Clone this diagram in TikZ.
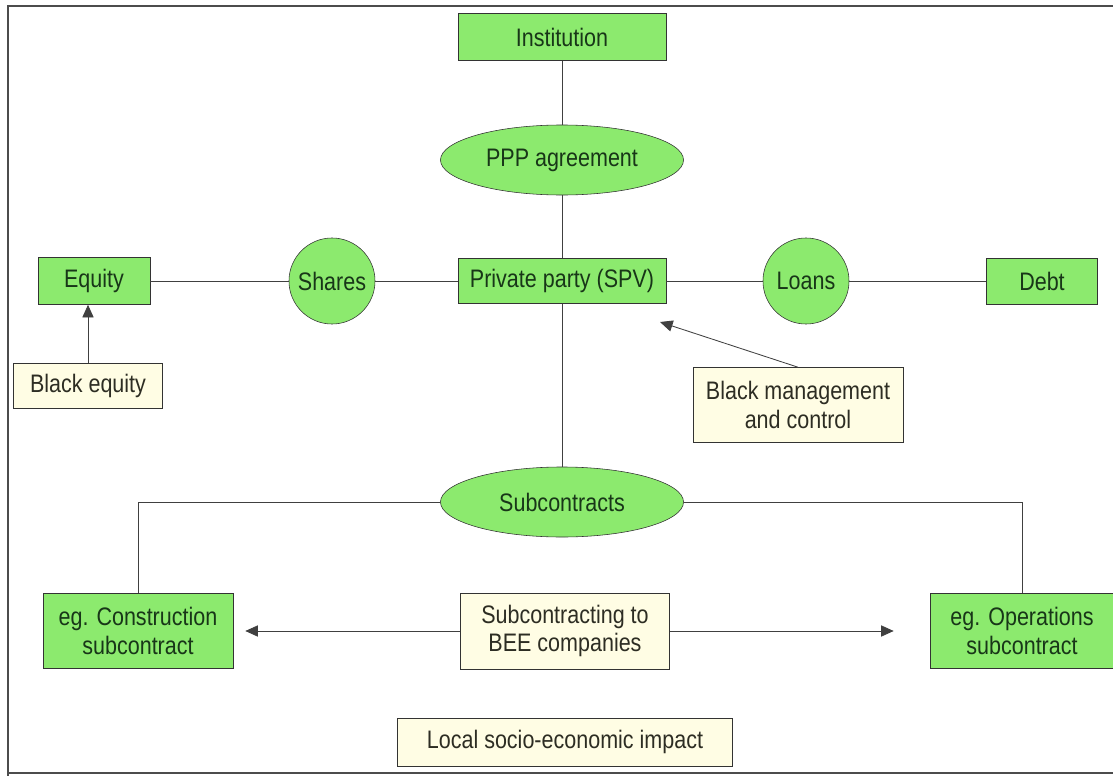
\documentclass[tikz,border=0pt]{standalone}
\usepackage{fontspec}
\setmainfont{Liberation Sans}[FakeStretch=0.85]
\usepackage{tikz}
\usepackage{xcolor}
\usetikzlibrary{arrows.meta,calc,positioning,shapes.geometric}

\definecolor{boxgreen}{RGB}{140,234,110}
\definecolor{boxcream}{RGB}{255,253,228}
\definecolor{greentext}{RGB}{24,54,24}
\definecolor{creamtext}{RGB}{45,45,35}

\begin{document}
\begin{tikzpicture}[x=0.025cm, y=-0.025cm,
    font=\fontsize{18}{20.5}\selectfont,
    greenbox/.style={draw=black!80, fill=boxgreen, text=greentext, inner sep=0pt, align=center},
    creambox/.style={draw=black!80, fill=boxcream, text=creamtext, inner sep=0pt, align=center},
    greenoval/.style={ellipse, draw=black!80, fill=boxgreen, text=greentext, inner sep=0pt,
      minimum width=6.075cm, minimum height=1.75cm},
    greencirc/.style={circle, draw=black!80, fill=boxgreen, text=greentext, inner sep=0pt,
      minimum size=2.15cm},
    link/.style={black!75, line width=0.5pt},
    pointer/.style={black!75, line width=0.6pt, -{Triangle[length=9pt,width=8pt]}}]
  \useasboundingbox (0,0) rectangle (1113,776);

  % outer frame (right side runs off the page)
  \draw[black!70, line width=1.2pt] (8,776) -- (8,6) -- (1113,6);
  \draw[black!70, line width=1.2pt] (8,773) -- (1113,773);

  % central column
  \node[greenbox, minimum width=5.2cm, minimum height=1.175cm] (inst) at (562,37) {Institution};
  \node[greenoval] (ppp) at (562,160) {PPP agreement};
  \node[greenbox, minimum width=5.2cm, minimum height=1.125cm] (spv) at (562,281) {Private party (SPV)};
  \node[greenoval] (subc) at (562,502) {Subcontracts};

  % funding row
  \node[greenbox, minimum width=2.8cm, minimum height=1.175cm] (equity) at (94,281) {Equity};
  \node[greencirc] (shares) at (332,281) {Shares};
  \node[greencirc] (loans) at (806,281) {Loans};
  \node[greenbox, minimum width=2.775cm, minimum height=1.15cm] (debt) at (1042,281) {Debt};

  % BEE elements
  \node[creambox, minimum width=3.725cm, minimum height=1.125cm] (blackeq) at (88,386) {Black equity};
  \node[creambox, minimum width=5.25cm, minimum height=1.875cm] (blackmc) at (798,405)
    {Black management\\and control};
  \coordinate (mctip) at (660,322);

  % subcontract row
  \node[greenbox, minimum width=4.75cm, minimum height=1.875cm] (constr) at (138,631)
    {eg. Construction\\subcontract};
  \node[greenbox, minimum width=4.6cm, minimum height=1.875cm] (oper) at (1022,631)
    {eg. Operations\\subcontract};
  \node[creambox, minimum width=5.225cm, minimum height=1.9cm] (bee) at (565,631)
    {Subcontracting to\\BEE companies};
  \node[creambox, minimum width=8.375cm, minimum height=1.2cm] (local) at (565,742)
    {Local socio-economic impact};

  % connectors
  \draw[link] (inst) -- (ppp) -- (spv) -- (subc);
  \draw[link] (equity) -- (shares) -- (spv) -- (loans) -- (debt);
  \draw[link] (constr.north) |- (subc.west);
  \draw[link] (oper.north) |- (subc.east);

  \draw[pointer] (blackeq.north) -- (blackeq.north |- equity.south);
  \draw[pointer] (blackmc.north) -- (mctip);
  \draw[pointer, shorten >=0.3cm] (bee) -- (constr);
  \draw[pointer, shorten >=0.9cm] (bee) -- (oper);
\end{tikzpicture}
\end{document}
